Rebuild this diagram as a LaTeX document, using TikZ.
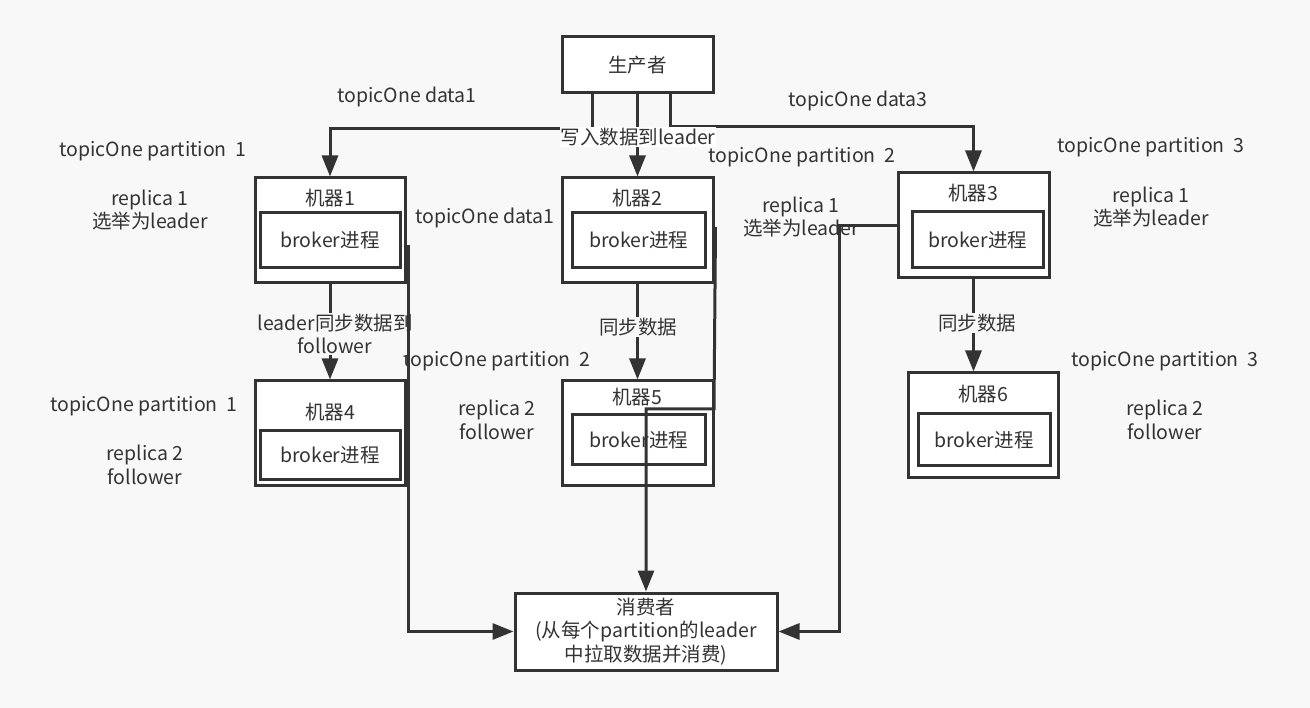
\documentclass[tikz,border=0pt]{standalone}
\usepackage{fontspec}
\setmainfont{Noto Sans CJK SC}
\usetikzlibrary{arrows.meta,calc}
\definecolor{ink}{HTML}{333333}
\definecolor{bg}{HTML}{F8F8F8}
\begin{document}
\begin{tikzpicture}[x=1pt,y=-1pt,
  box/.style={draw=ink, line width=3pt, fill=white, inner sep=0pt},
  txt/.style={text=ink, font=\fontsize{19.5}{23.5}\selectfont, align=center, inner sep=1pt},
  lbl/.style={txt, fill=white},
  link/.style={draw=ink, line width=3pt},
  arr/.style={link, -{Triangle[length=21pt,width=16pt]}}
]
\fill[bg] (0,0) rectangle (1310,708);
\useasboundingbox (0,0) rectangle (1310,708);

% producer
\node[box, txt, inner sep=0pt, minimum width=151pt, minimum height=56pt] (p) at (637.5,65) {生产者};

% machines
\node[box, minimum width=150pt, minimum height=105pt] (m1) at (330,230.5) {};
\node[txt] (t1) at (330,198) {机器1};
\node[box, txt, inner sep=0pt, minimum width=140pt, minimum height=55pt] (b1) at (330,240) {broker进程};

\node[box, minimum width=151pt, minimum height=105pt] (m2) at (637.5,230.5) {};
\node[txt] (t2) at (637,198) {机器2};
\node[box, txt, inner sep=0pt, minimum width=133pt, minimum height=55pt] (b2) at (638.5,240) {broker进程};

\node[box, minimum width=151pt, minimum height=105pt] (m3) at (973.5,225.5) {};
\node[txt] (t3) at (973,193) {机器3};
\node[box, txt, inner sep=0pt, minimum width=131pt, minimum height=56pt] (b3) at (977.5,240) {broker进程};

\node[box, minimum width=150pt, minimum height=105pt] (m4) at (330,433.5) {};
\node[txt] (t4) at (330,412) {机器4};
\node[box, txt, inner sep=0pt, minimum width=140pt, minimum height=49pt] (b4) at (330,455.5) {broker进程};

\node[box, minimum width=151pt, minimum height=105pt] (m5) at (637.5,433.5) {};
\node[txt] (t5) at (637,397) {机器5};
\node[box, txt, inner sep=0pt, minimum width=133pt, minimum height=50pt] (b5) at (638.5,440) {broker进程};

\node[box, minimum width=150pt, minimum height=105pt] (m6) at (983,425.5) {};
\node[txt] (t6) at (983,394) {机器6};
\node[box, txt, inner sep=0pt, minimum width=132pt, minimum height=52pt] (b6) at (984,440) {broker进程};

% consumer
\node[box, txt, inner sep=0pt, minimum width=262pt, minimum height=77pt] (c) at (646,631.5) {消费者\\(从每个partition的leader\\中拉取数据并消费)};

% free labels
\node[txt] (l1) at (407,97) {topicOne data1};
\node[txt] (l2) at (858,101) {topicOne data3};
\node[txt] (l3) at (153,151) {topicOne partition\ \ 1};
\node[txt] (l4) at (150,210) {replica 1\\选举为leader};
\node[txt] (l5) at (485,218) {topicOne data1};
\node[txt] (l6) at (802,157) {topicOne partition\ \ 2};
\node[txt] (l7) at (801,217) {replica 1\\选举为leader};
\node[txt] (l8) at (1151,147) {topicOne partition\ \ 3};
\node[txt] (l9) at (1151,207) {replica 1\\选举为leader};
\node[txt] (l10) at (497,361) {topicOne partition\ \ 2};
\node[txt] (l11) at (1165,361) {topicOne partition\ \ 3};
\node[txt] (l12) at (144,406) {topicOne partition\ \ 1};
\node[txt] (l13) at (145,465) {replica 2\\follower};
\node[txt] (l14) at (497,420) {replica 2\\follower};
\node[txt] (l15) at (1165,420) {replica 2\\follower};

% producer to leaders
\draw[arr] ([xshift=-45.5pt]p.south) -- ++(0,34) -| (m1.north);
\draw[arr] (p.south) -- (m2.north);
\draw[arr] ([xshift=32.5pt]p.south) -- ++(0,32) -| (m3.north);
\node[lbl] (w) at (638,137) {写入数据到leader};

% leader to follower
\draw[arr] (m1.south) -- (m4.north);
\node[lbl, fill=bg] (s1) at (335,334) {leader同步数据到\\follower};
\draw[arr] (m2.south) -- (m5.north);
\node[lbl, fill=bg] (s2) at (638,327) {同步数据};
\draw[arr] (m3.south) -- (m3.south |- m6.north);
\node[lbl, fill=bg] (s3) at (977,323) {同步数据};

% leaders to consumer
\coordinate (k2) at (714,409);
\draw[arr] ($(m1.east)+(2,14.5)$) |- (c.west);
\draw[arr] ($(m2.east)+(1,-3.5)$) -- (k2) -| (c.north);
\draw[arr] (m3.west) -| ($(c.east)+(61,0)$) -- (c.east);
\end{tikzpicture}
\end{document}
